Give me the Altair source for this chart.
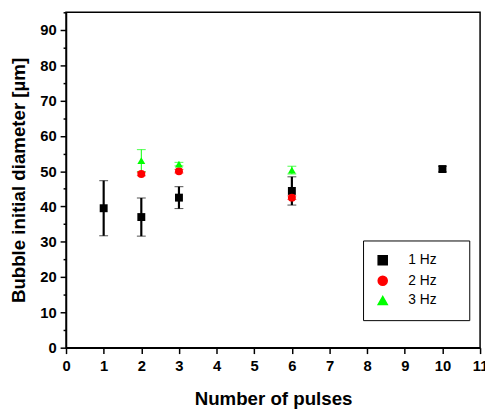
import altair as alt
import pandas as pd

series = ["1 Hz", "2 Hz", "3 Hz"]
colors = ["#000000", "#ff0000", "#00ff00"]
shapes = ["square", "circle", "triangle-up"]

x_1hz = [1, 2, 3, 6, 10]
y_1hz = [39.5, 37.0, 42.5, 44.4, 50.6]
e_1hz = [7.8, 5.4, 3.1, 4.0, 0.8]

x_2hz = [2, 3, 6]
y_2hz = [49.2, 50.0, 42.5]
e_2hz = [0.5, 0.5, 0.5]

x_3hz = [2, 3, 6]
y_3hz = [53.0, 52.0, 50.3]
e_3hz = [3.1, 0.5, 1.1]

x_ticks = [i * 0.5 for i in range(23)]
y_ticks = [i * 5 for i in range(20)]

rows = []
for name, xs, ys, es, sw in [("1 Hz", x_1hz, y_1hz, e_1hz, 2.2),
                             ("2 Hz", x_2hz, y_2hz, e_2hz, 1.0),
                             ("3 Hz", x_3hz, y_3hz, e_3hz, 1.0)]:
    for xv, yv, ev in zip(xs, ys, es):
        rows.append({"series": name, "x": xv, "y": yv, "lo": yv - ev, "hi": yv + ev, "sw": sw})
df = pd.DataFrame(rows)

font = "Liberation Sans"

xscale = alt.Scale(domain=[0, 11], nice=False, zero=False)
yscale = alt.Scale(domain=[0, 95], nice=False, zero=False)

xaxis = alt.Axis(
    values=x_ticks, format="d",
    labelExpr="datum.value % 1 === 0 ? datum.label : ''",
    ticks=True,
    tickSize={"condition": {"test": "datum.value % 1 !== 0", "value": 3}, "value": 6},
    title="Number of pulses",
    grid=False, labelFlush=False, labelOverlap=False,
    labelFont=font, labelFontSize=15, labelFontWeight="bold", labelColor="black", labelPadding=5,
    titleFont=font, titleFontSize=19, titleFontWeight="bold", titleColor="black", titlePadding=17,
    domainColor="black", domainWidth=1.5, tickColor="black", tickWidth=1.5,
)
yaxis = alt.Axis(
    values=y_ticks, format="d",
    labelExpr="datum.value % 10 === 0 ? datum.label : ''",
    ticks=True,
    tickSize={"condition": {"test": "datum.value % 10 !== 0", "value": 3}, "value": 6},
    title="Bubble initial diameter [\u00b5m]",
    grid=False, labelFlush=False, labelOverlap=False,
    labelFont=font, labelFontSize=15, labelFontWeight="bold", labelColor="black", labelPadding=4,
    titleFont=font, titleFontSize=19, titleFontWeight="bold", titleColor="black", titlePadding=12,
    domainColor="black", domainWidth=1.5, tickColor="black", tickWidth=1.5,
)

legend = alt.Legend(title="\u00a0", titleOrient="right", titlePadding=20, titleFontSize=14,
                    orient="none", legendX=302, legendY=232,
                    strokeColor="black", padding=13, rowPadding=5,
                    labelFont=font, labelFontSize=14, labelColor="black",
                    symbolSize=85, symbolOpacity=1, labelOffset=19, fillColor="white")

color_enc = alt.Color("series:N", scale=alt.Scale(domain=series, range=colors), legend=legend)
shape_enc = alt.Shape("series:N", scale=alt.Scale(domain=series, range=shapes), legend=legend)

base = alt.Chart(df)

rules = base.mark_rule().encode(
    x=alt.X("x:Q", scale=xscale, axis=xaxis),
    y=alt.Y("lo:Q", scale=yscale, axis=yaxis),
    y2="hi:Q",
    color=color_enc,
    strokeWidth=alt.StrokeWidth("sw:Q", scale=None),
)

caps_lo = base.mark_tick(orient="horizontal", size=9).encode(
    x=alt.X("x:Q", scale=xscale, axis=xaxis),
    y=alt.Y("lo:Q", scale=yscale, axis=yaxis),
    color=color_enc,
    strokeWidth=alt.StrokeWidth("sw:Q", scale=None),
)
caps_hi = base.mark_tick(orient="horizontal", size=9).encode(
    x=alt.X("x:Q", scale=xscale, axis=xaxis),
    y=alt.Y("hi:Q", scale=yscale, axis=yaxis),
    color=color_enc,
    strokeWidth=alt.StrokeWidth("sw:Q", scale=None),
)

points = base.mark_point(filled=True, opacity=1, size=65).encode(
    x=alt.X("x:Q", scale=xscale, axis=xaxis),
    y=alt.Y("y:Q", scale=yscale, axis=yaxis),
    color=color_enc,
    shape=shape_enc,
)

chart = alt.layer(rules, caps_lo, caps_hi, points).properties(
    width=421, height=341,
    autosize=alt.AutoSizeParams(type="none"),
    padding={"left": 59, "top": 1, "right": 5, "bottom": 61},
    background="white",
).configure_view(stroke="black", strokeWidth=1.5)

chart.save("out.html", embed_options={"renderer": "svg", "actions": False})
